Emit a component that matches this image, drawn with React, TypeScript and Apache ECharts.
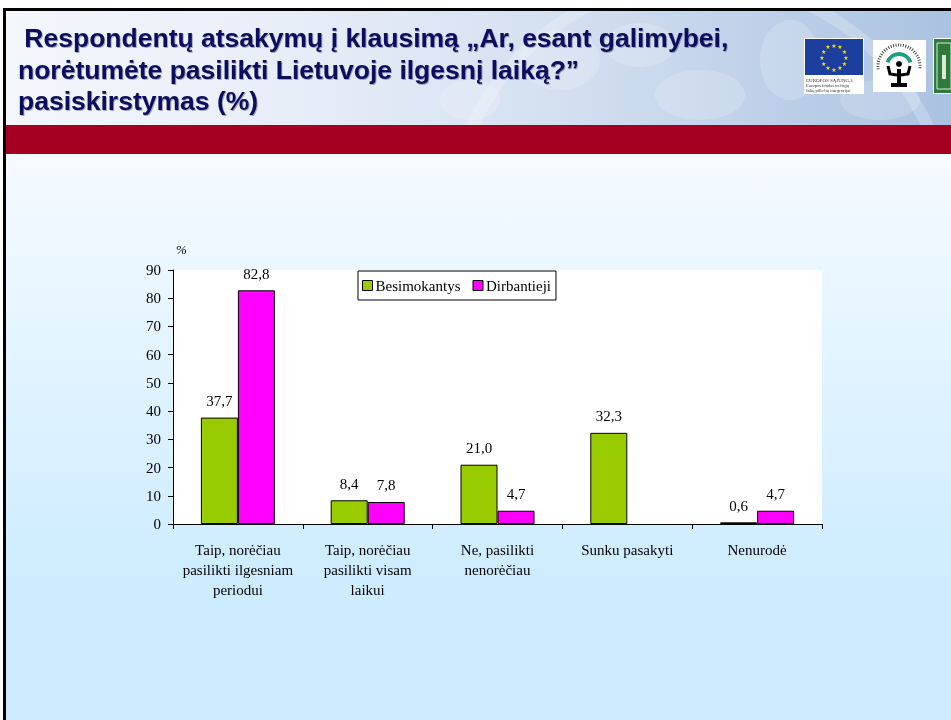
import React, { useEffect, useRef } from "react";
import * as echarts from "echarts";

const categories = [
  "Taip, norėčiau\npasilikti ilgesniam\nperiodui",
  "Taip, norėčiau\npasilikti visam\nlaikui",
  "Ne, pasilikti\nnenorėčiau",
  "Sunku pasakyti",
  "Nenurodė",
];
const besimokantys = [37.7, 8.4, 21.0, 32.3, 0.6];
const dirbantieji: (number | string)[] = [82.8, 7.8, 4.7, "-", 4.7];
const seriesNames = ["Besimokantys", "Dirbantieji"];
const titleLines = [
  " Respondentų atsakymų į klausimą „Ar, esant galimybei,",
  "norėtumėte pasilikti Lietuvoje ilgesnį laiką?”",
  "pasiskirstymas (%)",
];
const euText = ["EUROPOS SĄJUNGA", "Europos fondas trečiųjų", "šalių piliečių integracijai"];

const serif = "'Liberation Serif', 'Times New Roman', serif";
const sans = "'Liberation Sans', Arial, sans-serif";

function buildGraphics() {
  const g: any[] = [];
  const headerClip = { type: "rect", shape: { x: 4, y: 11, width: 947, height: 114 } };
  g.push({ type: "rect", z: -10, shape: { x: 0, y: 0, width: 951, height: 720 }, style: { fill: "#ffffff" } });
  g.push({
    type: "rect", z: -9,
    shape: { x: 4, y: 9, width: 947, height: 711 },
    style: {
      fill: new echarts.graphic.LinearGradient(0, 0, 0, 1, [
        { offset: 0, color: "#f6fbff" },
        { offset: 0.2, color: "#f6fbff" },
        { offset: 0.8, color: "#cdecff" },
        { offset: 1, color: "#cdecff" },
      ]),
    },
  });
  // header background
  g.push({
    type: "rect", z: -8,
    shape: { x: 4, y: 11, width: 947, height: 114 },
    style: {
      fill: new echarts.graphic.LinearGradient(0, 0, 1, 0, [
        { offset: 0, color: "#f4f7fc" },
        { offset: 0.3, color: "#e8eef8" },
        { offset: 0.6, color: "#d3dff0" },
        { offset: 1, color: "#aac2e1" },
      ]),
    },
  });
  // faint globe
  g.push({
    type: "circle", z: -7,
    shape: { cx: 700, cy: 230, r: 250 },
    style: { fill: "rgba(255,255,255,0)", stroke: "rgba(255,255,255,0.22)", lineWidth: 12 },
    clipPath: headerClip,
  });
  const blobs = [
    [560, 60, 40, 30], [640, 45, 35, 22], [700, 95, 45, 25], [790, 60, 30, 40], [880, 100, 40, 20], [470, 100, 30, 20],
  ];
  blobs.forEach(([cx, cy, rx, ry]) =>
    g.push({
      type: "ellipse", z: -7,
      shape: { cx, cy, rx, ry },
      style: { fill: "rgba(255,255,255,0.18)" },
      clipPath: headerClip,
    })
  );
  // red bar
  g.push({ type: "rect", z: -6, shape: { x: 4, y: 125, width: 947, height: 29 }, style: { fill: "#a50021" } });
  // black border
  g.push({ type: "rect", z: -5, shape: { x: 3, y: 8, width: 948, height: 3 }, style: { fill: "#000" } });
  g.push({ type: "rect", z: -5, shape: { x: 3, y: 8, width: 3, height: 712 }, style: { fill: "#000" } });

  // title
  const xs = [17, 18, 18];
  const ys = [38, 70, 101];
  titleLines.forEach((t, i) =>
    g.push({
      type: "text", z: 5,
      x: xs[i], y: ys[i],
      style: {
        text: t, fill: "#0c0c5e", font: `bold 26.5px ${sans}`,
        textVerticalAlign: "middle", textAlign: "left",
        textShadowColor: "rgba(0,0,40,0.3)", textShadowOffsetX: 1, textShadowOffsetY: 1, textShadowBlur: 1,
      },
    })
  );

  // EU logo
  g.push({ type: "rect", z: 5, shape: { x: 804, y: 38, width: 60, height: 56 }, style: { fill: "#ffffff" } });
  g.push({ type: "rect", z: 6, shape: { x: 805, y: 39, width: 58, height: 36 }, style: { fill: "#1c3e9e" } });
  for (let k = 0; k < 12; k++) {
    const a = (k * Math.PI * 2) / 12;
    g.push({
      type: "text", z: 7,
      x: 834 + Math.cos(a) * 12, y: 57 + Math.sin(a) * 12,
      style: { text: "★", fill: "#ffdd00", font: "6px 'DejaVu Sans'", textAlign: "center", textVerticalAlign: "middle" },
    });
  }
  euText.forEach((t, i) =>
    g.push({
      type: "text", z: 7,
      x: 806, y: 80 + i * 5,
      style: { text: t, fill: "#333", font: `${i === 0 ? 5 : 4.5}px ${serif}`, textAlign: "left", textVerticalAlign: "middle" },
    })
  );
  // second logo
  g.push({ type: "rect", z: 5, shape: { x: 873, y: 40, width: 53, height: 52 }, style: { fill: "#ffffff" } });
  g.push({
    type: "arc", z: 6,
    shape: { cx: 899, cy: 66, r: 12, startAngle: Math.PI * 1.1, endAngle: Math.PI * 1.9 },
    style: { stroke: "#1f9d80", lineWidth: 4, fill: "none" },
  });
  g.push({
    type: "arc", z: 6,
    shape: { cx: 899, cy: 66, r: 21, startAngle: Math.PI * 0.95, endAngle: Math.PI * 2.05 },
    style: { stroke: "#444", lineWidth: 3, lineDash: [1, 1.5], fill: "none" },
  });
  g.push({ type: "circle", z: 6, shape: { cx: 899, cy: 64, r: 3 }, style: { fill: "#000" } });
  g.push({ type: "rect", z: 6, shape: { x: 897, y: 69, width: 4, height: 15 }, style: { fill: "#000" } });
  g.push({ type: "rect", z: 6, shape: { x: 891, y: 83, width: 16, height: 4 }, style: { fill: "#000" } });
  g.push({
    type: "polyline", z: 6,
    shape: { points: [[888, 66], [890, 74], [897, 75]] },
    style: { stroke: "#000", lineWidth: 3, fill: "none" },
  });
  g.push({
    type: "polyline", z: 6,
    shape: { points: [[910, 66], [908, 74], [901, 75]] },
    style: { stroke: "#000", lineWidth: 3, fill: "none" },
  });
  // third logo
  g.push({ type: "rect", z: 5, shape: { x: 933, y: 38, width: 18, height: 56 }, style: { fill: "#ffffff" } });
  g.push({ type: "rect", z: 6, shape: { x: 934, y: 39, width: 17, height: 54 }, style: { fill: "#2f7a3a" } });
  g.push({ type: "rect", z: 7, shape: { x: 937, y: 43, width: 14, height: 46 }, style: { fill: "none", stroke: "#d9eadb", lineWidth: 1 } });
  g.push({ type: "rect", z: 7, shape: { x: 942, y: 55, width: 4, height: 24 }, style: { fill: "#d9eadb" } });
  return g;
}

export default function App() {
  const ref = useRef<HTMLDivElement>(null);
  useEffect(() => {
    if (!ref.current) return;
    const chart = echarts.init(ref.current, null, { renderer: "svg" });
    const fmt = (p: any) => (typeof p.value === "number" ? p.value.toFixed(1).replace(".", ",") : "");
    const labelStyle = {
      show: true, position: "top", distance: 9, formatter: fmt,
      fontFamily: serif, fontSize: 15, color: "#000",
    };
    chart.setOption({
      animation: false,
      graphic: buildGraphics(),
      grid: {
        left: 173, top: 270, right: 129, bottom: 196,
        show: true, backgroundColor: "#ffffff", borderWidth: 0, containLabel: false,
      },
      legend: {
        data: seriesNames,
        left: 358, top: 271,
        orient: "horizontal",
        icon: "rect",
        itemWidth: 10, itemHeight: 10, itemGap: 12,
        padding: [7, 5, 7, 4],
        backgroundColor: "#ffffff",
        borderColor: "#000", borderWidth: 1, borderRadius: 0,
        itemStyle: { borderColor: "#000", borderWidth: 1 },
        textStyle: { fontFamily: serif, fontSize: 15, color: "#000", padding: [0, 0, 0, -2] },
      },
      xAxis: {
        type: "category",
        data: categories,
        axisLine: { lineStyle: { color: "#000", width: 1 } },
        axisTick: { show: true, length: 5, lineStyle: { color: "#000" } },
        axisLabel: {
          interval: 0, margin: 16, fontFamily: serif, fontSize: 15, color: "#000", lineHeight: 20,
        },
      },
      yAxis: {
        type: "value",
        min: 0, max: 90, interval: 10,
        name: "%",
        nameLocation: "end",
        nameGap: 14,
        nameTextStyle: { fontFamily: serif, fontSize: 13, fontStyle: "italic", color: "#000", align: "left", padding: [0, 0, 0, 3] },
        axisLine: { show: true, lineStyle: { color: "#000", width: 1 } },
        axisTick: { show: true, length: 5, lineStyle: { color: "#000" } },
        axisLabel: { margin: 12, fontFamily: serif, fontSize: 15, color: "#000" },
        splitLine: { show: false },
      },
      series: [
        {
          name: seriesNames[0], type: "bar", data: besimokantys,
          barWidth: 37, barGap: "0%",
          itemStyle: { color: "#99cc00", borderColor: "#000", borderWidth: 1 },
          label: labelStyle,
        },
        {
          name: seriesNames[1], type: "bar", data: dirbantieji,
          barWidth: 37, barGap: "0%",
          itemStyle: { color: "#ff00ff", borderColor: "#000", borderWidth: 1 },
          label: labelStyle,
        },
      ],
    });
    return () => chart.dispose();
  }, []);
  return (
    <div
      ref={ref}
      style={{ position: "fixed", left: 0, top: 0, width: 951, height: 720 }}
    />
  );
}
